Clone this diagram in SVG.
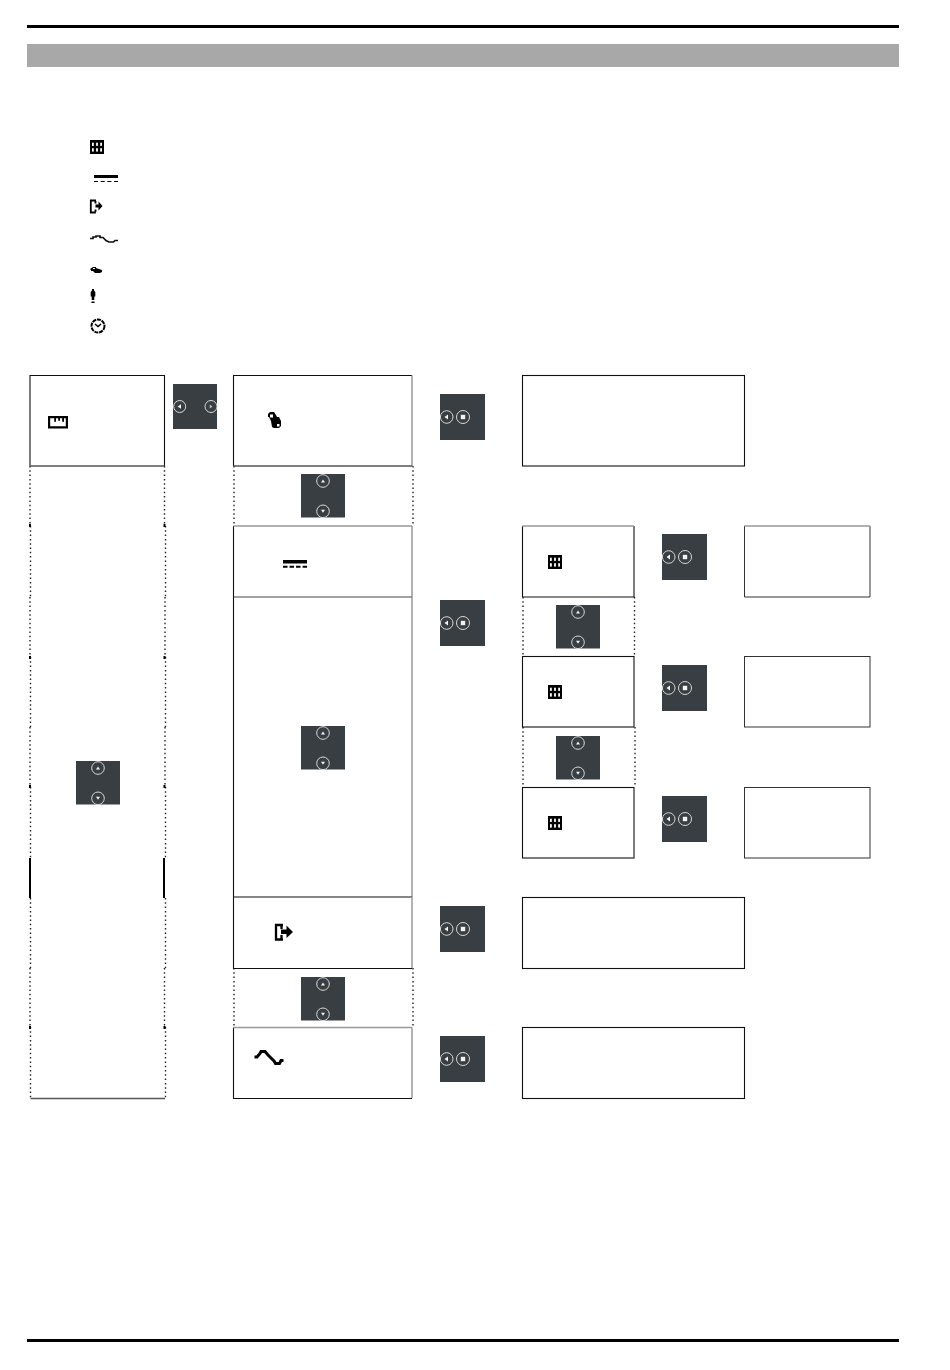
<svg xmlns="http://www.w3.org/2000/svg" width="950" height="1370" viewBox="0 0 950 1370">
<style>
.box{fill:none;stroke:#111;stroke-width:1.1}
.thin{fill:none;stroke:#333;stroke-width:1}
.dot{fill:none;stroke:#222;stroke-width:1.4;stroke-dasharray:1.5 2.8}
.tick{fill:#000}
.dk{fill:#393e42}
.ring{fill:none;stroke:#d8d8d8;stroke-width:1}
.tri{fill:#f2f2f2}
.g{fill:#000}
</style>
<defs>
<g id="btnH"><rect class="dk" width="45" height="46"/><circle class="ring" cx="6.700" cy="23" r="6.300"/><path class="tri" d="M4.500 23l3.500-2.500v5z"/><circle class="ring" cx="23" cy="23" r="6.500"/><rect class="tri" x="20.800" y="20.800" width="4.400" height="4.400"/></g>
<g id="btnV"><rect class="dk" width="44" height="43.500"/><circle class="ring" cx="22" cy="7" r="6.300"/><path class="tri" d="M22 5.500l2 3h-4z"/><circle class="ring" cx="22" cy="37.300" r="6.300"/><path class="tri" d="M22 38.800l2-3h-4z"/></g>
<g id="grid"><rect class="g" width="14" height="14"/><g fill="#fff"><rect x="2" y="2.700" width="1.800" height="3.200"/><rect x="6.100" y="2.700" width="1.800" height="3.200"/><rect x="10.200" y="2.700" width="1.800" height="3.200"/><rect x="2" y="8.200" width="1.800" height="3.400"/><rect x="6.100" y="8.200" width="1.800" height="3.400"/><rect x="10.200" y="8.200" width="1.800" height="3.400"/></g></g>
</defs>
<g id="page">
<rect x="27" y="25" width="872" height="3" fill="#000"/>
<rect x="27" y="44" width="872" height="23" fill="#a8a8a8"/>
<rect x="27" y="1339" width="872" height="3" fill="#000"/>
</g>
<g id="legend-icons">
<use href="#grid" x="90" y="140"/>
<g id="icon-dc"><rect class="g" x="94" y="175" width="24" height="3"/><path d="M94 181.500h24" stroke="#000" stroke-width="1.100" stroke-dasharray="4 2.700"/></g>
<g id="icon-exit"><path d="M96 200.500h-5.200v12h5M95.500 201v2.500M95.500 209.500v2.500" fill="none" stroke="#000" stroke-width="1.800"/><path d="M95.500 204.500h3v-3l4 4.500-4 4.500v-3h-3z" class="g"/></g>
<g id="icon-wave"><path d="M90 238.500h3v-1.500h3v-1h4v1.500h3l3 3 3 1.500h4.500l1.500-1.500h3" fill="none" stroke="#111" stroke-width="1.700"/></g>
<g id="icon-eye"><path d="M90 269l3-2h3v1l3 1 3 1v2l-2 1h-5l-2-2h-2v-1z" class="g"/><rect x="93" y="268" width="2" height="1" fill="#fff"/></g>
<g id="icon-person"><path d="M92 289h2v1.500l1.300 1.500v4.500h-1v3.500h-2.600v-3.500h-1v-4.500l1.300-1.500z" class="g"/><rect class="g" x="91.500" y="301.500" width="3" height="1.500"/></g>
<g id="icon-clock"><circle cx="98" cy="326" r="6.500" fill="none" stroke="#000" stroke-width="2" stroke-dasharray="4 .8"/><path d="M95 324l3 2.500 3-2.500" fill="none" stroke="#000" stroke-width="1.600"/></g>
</g>
<g id="connectors">
<path class="dot" d="M30 466V526M164.500 466V526M30.500 526V597M165.500 526V597M30 597V657M165 597V657M30.500 657V727M165.500 657V727M30 727V787M165 727V787M30.500 787V858M165.500 787V858M30.500 898V968M165.500 898V968M30 968V1027M164.500 968V1027M30.500 1027V1098M165.500 1027V1098"/>
<path class="dot" d="M234 466V526M413 466V526M234 968V1027M413 968V1027M523 597V656M634.500 597V656M523 727V787M635 727V787"/>
<path d="M30 858V898M164 858V898" stroke="#000" stroke-width="2" fill="none"/>
<path class="tick" d="M29 524h2v3h-2zM163.500 524h2v3h-2zM29 656h2v3h-2zM163.500 656h2v3h-2zM29 785h2v3h-2zM163.500 785h2v3h-2zM29 1026h2v3h-2zM163.500 1026h2v3h-2z"/>
</g>
<g id="node-a"><path class="box" d="M30 466V375.500H164.500V466"/><path d="M30 466H164.500" stroke="#555" stroke-width="1.500"/>
<g id="icon-ruler"><path fill="#000" d="M48 416h20v12.500H48zM50.200 418.200v8.100h15.600v-8.100h-1.800v3.500h-1.800v-3.500h-2.200v2.500h-1.800v-2.500h-2.200v3.500h-1.800v-3.500z" fill-rule="evenodd"/></g></g>
<g id="node-a2"><path d="M30.500 1098.500H165" stroke="#555" stroke-width="1.300"/></g>
<g id="node-b1"><path d="M233.500 466V375.500H412" class="box"/><path d="M412 375.500V466" stroke="#999" stroke-width="1.500"/><path d="M233.500 466H412" stroke="#555" stroke-width="1.500"/>
<g id="icon-b1"><path d="M268 414l2-2h4l2 3 1 2h2l2 4v5l-2 2h-5l-2-1-1-6-2-4h-1z" class="g"/><rect x="270" y="414.500" width="3" height="3" fill="#fff"/><rect x="277" y="424" width="2.500" height="2.500" fill="#fff"/></g></g>
<g id="node-b2"><path d="M233.500 526V597" class="box"/><path d="M233.500 526H412M412 526V597" stroke="#999" stroke-width="1.500" fill="none"/><path d="M233.500 597H412" stroke="#444" stroke-width="1"/>
<rect class="g" x="283" y="560" width="24" height="3.500"/><path d="M283 566.700h24" stroke="#000" stroke-width="2" stroke-dasharray="4.500 2.030"/></g>
<g id="node-b3"><path class="box" d="M233.500 597V897"/><path d="M412 597V897" stroke="#999" stroke-width="1.500"/></g>
<g id="node-b4"><path d="M233.500 897H412M233.500 897V968.500H412" class="box"/><path d="M412 897V968" stroke="#999" stroke-width="1.500"/>
<g id="icon-exit-l"><path d="M283 925h-7v14.500h7M281.500 925v4M281.500 935v4.500" fill="none" stroke="#000" stroke-width="2.300"/><path d="M281 929.500h5.500v-4l6.500 6.500-6.500 6v-4H281z" class="g"/></g></g>
<g id="node-b5"><path d="M233.500 1027.500V1098.500H412" class="box"/><path d="M233.500 1027.500H412M412 1027.500V1098" stroke="#999" stroke-width="1.500" fill="none"/>
<path id="icon-wave-l" d="M254.500 1057h2.500l3-3.500 1-2h4l3 3.500 3 3 3 3 1.500 2.500h4l1.500-3h2.500" fill="none" stroke="#000" stroke-width="3"/></g>
<g id="node-c1"><rect class="box" x="522.500" y="375.500" width="222" height="90.500"/></g>
<g id="node-c2"><path d="M522.500 597V526M634 526V597H522.500" class="box"/><path d="M522 526H634" stroke="#999" stroke-width="1.500"/><use href="#grid" x="548" y="555"/></g>
<g id="node-c3"><rect class="box" x="522.500" y="656.500" width="111.500" height="70.500"/><use href="#grid" x="548" y="685"/></g>
<g id="node-c4"><rect class="box" x="522.500" y="787.500" width="111.500" height="70.500"/><use href="#grid" x="548" y="816"/></g>
<g id="node-c5"><rect class="box" x="522.500" y="897.500" width="222" height="71"/></g>
<g id="node-c6"><rect class="box" x="522.500" y="1027.500" width="222" height="71"/></g>
<g id="node-d1"><path d="M744.500 526V597H870V526" class="thin"/><path d="M744.500 526H870" stroke="#999" stroke-width="1.500"/></g>
<g id="node-d2"><rect class="thin" x="744.500" y="656.500" width="125.500" height="70.500"/></g>
<g id="node-d3"><rect class="thin" x="744.500" y="787.500" width="125.500" height="70.500"/></g>
<g id="buttons">
<g id="btn-lr" transform="translate(173 384)"><rect class="dk" width="44" height="45"/><circle class="ring" cx="6.700" cy="22.500" r="6"/><path class="tri" d="M4.700 22.500l3.300-2.300v4.600z"/><circle class="ring" cx="38" cy="22.500" r="6"/><path class="tri" d="M39.500 22.500l-2.800-2v4z" opacity=".7"/></g>
<use href="#btnH" x="440" y="394"/><use href="#btnH" x="440" y="600"/><use href="#btnH" x="662" y="534"/><use href="#btnH" x="662" y="665"/><use href="#btnH" x="662" y="796"/><use href="#btnH" x="440" y="906"/><use href="#btnH" x="440" y="1036"/>
<use href="#btnV" x="301" y="474"/><use href="#btnV" x="556" y="605"/><use href="#btnV" x="301" y="726"/><use href="#btnV" x="556" y="736"/><use href="#btnV" x="76" y="761"/><use href="#btnV" x="301" y="977"/>
</g>
</svg>
